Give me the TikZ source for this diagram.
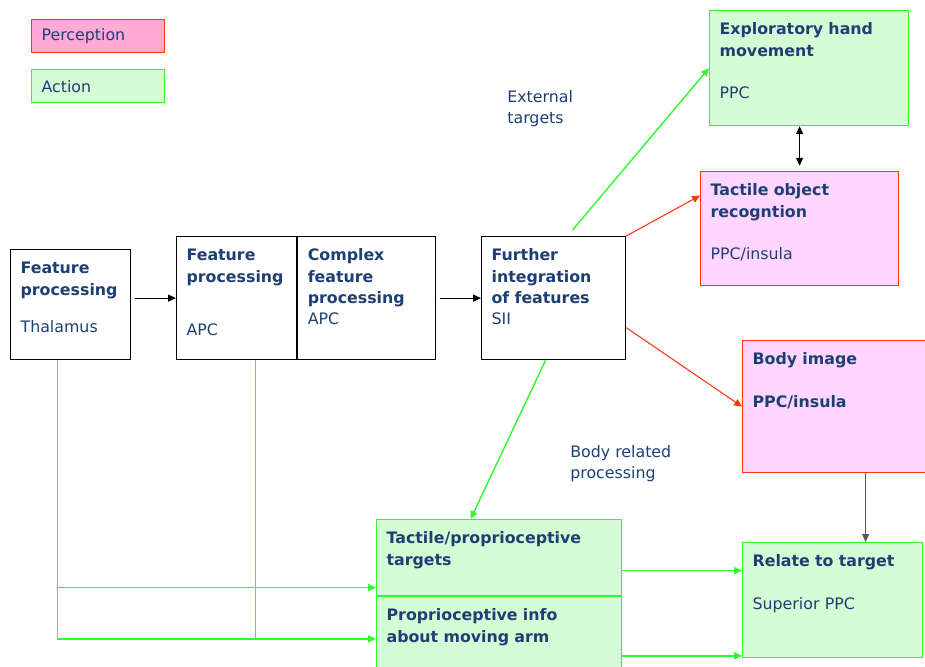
\documentclass[tikz,border=0pt]{standalone}
\usepackage{fontspec}
\setmainfont{DejaVu Sans}
\usepackage{tikz}
\usetikzlibrary{positioning,arrows.meta,calc}

\definecolor{txtblue}{HTML}{1E3F74}
\definecolor{pkfill}{HTML}{FFAAD4}
\definecolor{pkpale}{HTML}{FFD6FF}
\definecolor{grfill}{HTML}{D5FDD5}
\definecolor{grline}{HTML}{2EFA2E}
\definecolor{rdline}{HTML}{FF3311}

\begin{document}
\begin{tikzpicture}[
			x=0.02cm,y=0.02cm,
			every node/.style={font=\fontsize{9}{12.2}\selectfont,text=txtblue},
			block/.style={draw=black,line width=0.7pt,fill=white,anchor=north west,align=left,
				inner xsep=0.2cm,inner ysep=0pt,text height=0.48cm},
			actblock/.style={block,draw=grline,fill=grfill},
			percblock/.style={block,draw=rdline,fill=pkpale},
			legend/.style={draw,line width=0.7pt,anchor=north west,align=left,
				inner xsep=0.2cm,text width=2.26cm,minimum height=0.66cm},
			lbl/.style={anchor=north west,align=left,inner sep=0pt},
			gline/.style={draw=grline,line width=0.8pt},
			rline/.style={draw=rdline,line width=0.6pt},
			bline/.style={draw=black,line width=0.6pt},
			>={Triangle[length=4.5pt,width=4pt]}
			]
			
			\useasboundingbox (0,0) rectangle (925,-666);
			
			% legend
			\node[legend,draw=rdline,fill=pkfill] (perc) at (31,-19) {Perception};
			\node[legend,draw=grline,fill=grfill] (act) at (31,-69) {Action};
			
			% processing chain
			\node[block,text width=2.0cm,text depth=1.72cm] (thal) at (10,-249)
			{{\bfseries Feature\\processing}\\[9pt]Thalamus};
			
			\node[block,text width=2.0cm,text depth=1.98cm] (apc1) at (176,-236)
			{{\bfseries Feature\\processing}\\[18.5pt]APC};
			
			\node[block,text width=2.36cm,text depth=1.98cm] (apc2) at (apc1.north east)
			{{\bfseries Complex\\feature\\processing}\\APC};
			
			\node[block,text width=2.48cm,text depth=1.98cm] (sii) at (481,-236)
			{{\bfseries Further\\integration\\of features}\\SII};
			
			% targets
			\node[actblock,text width=3.58cm,text depth=1.82cm] (expl) at (709,-10)
			{{\bfseries Exploratory hand\\movement}\\[12.2pt]PPC};
			
			\node[percblock,text width=3.56cm,text depth=1.80cm] (tor) at (700,-171)
			{{\bfseries Tactile object\\recogntion}\\[12.2pt]PPC/insula};
			
			\node[percblock,text width=3.28cm,text depth=2.16cm] (body) at (742,-340)
			{\bfseries Body image\\[12pt]PPC/insula};
			
			\node[actblock,text width=4.5cm,text depth=1.04cm] (tp) at (376,-519)
			{\bfseries Tactile/proprioceptive\\targets};
			
			\node[actblock,text width=4.5cm,text depth=0.98cm] (pr) at (tp.south west)
			{\bfseries Proprioceptive info\\about moving arm};
			
			\node[actblock,text width=3.2cm,text depth=1.82cm] (rel) at (742,-542)
			{{\bfseries Relate to target}\\[12.2pt]Superior PPC};
			
			\node[lbl] (ext) at (507,-90) {External\\targets};
			\node[lbl] (bodyrel) at (570,-445) {Body related\\processing};
			
			% connections
			\draw[bline,->,shorten <=2pt] (thal.east |- apc1.west) -- (apc1.west);
			\draw[bline,->,shorten <=2pt] (apc2.east) -- (sii.west);
			\draw[gline,->] ([shift={(19,6)}]sii.north) -- (expl.west);
			\draw[rline,->] (sii.north east) -- ([shift={(0,33)}]tor.west);
			\draw[rline,->] ([shift={(0,-29.5)}]sii.east) -- (body.west);
			\draw[gline,->] ([shift={(-8,0)}]sii.south) -- ([shift={(-28.5,0)}]tp.north);
			\draw[bline,<->,shorten >=3pt] (tor.north |- expl.south) -- (tor.north);
			\draw[bline,draw=black!65,->] ([shift={(31,0)}]body.south) -- ([shift={(31,0)}]body.south |- rel.north);
			\draw[gline,->] ([shift={(0,-13)}]tp.east) -- ([shift={(0,-13)}]tp.east -| rel.west);
			\draw[gline,->] ([shift={(0,-22.5)}]pr.east) -- ([shift={(0,-22.5)}]pr.east -| rel.west);
			
			\coordinate (thalout) at ([shift={(-13,0)}]thal.south);
			\coordinate (apcout) at ([shift={(19,0)}]apc1.south);
			\coordinate (trin) at ([shift={(0,-30)}]tp.west);
			\coordinate (arin) at ([shift={(0,-5.5)}]pr.west);
			\draw[gline,->] (thalout) |- (trin);
			\draw[gline,->] (thalout) |- (arin);
			\draw[gline] (apcout) -- (apcout |- arin);
			
		\end{tikzpicture}
\end{document}
